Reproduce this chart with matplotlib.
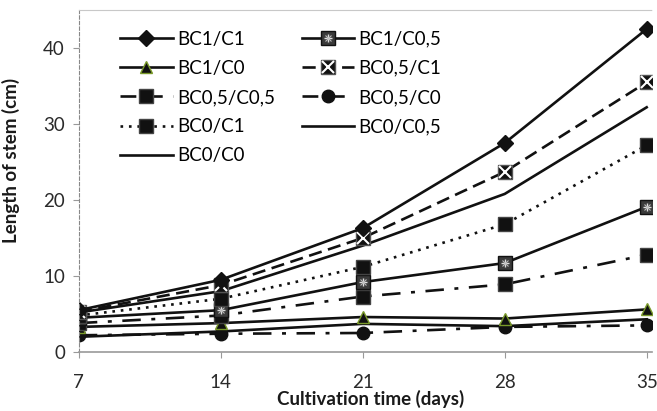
import matplotlib
matplotlib.use("Agg")
import matplotlib.pyplot as plt
from matplotlib.lines import Line2D
from matplotlib.legend_handler import HandlerTuple

plt.rcParams['font.family'] = ['Lato', 'DejaVu Sans']

# data
days = [7, 14, 21, 28, 35]
bc1_c1 = [5.5, 9.5, 16.3, 27.5, 42.5]
bc1_c05 = [4.5, 5.5, 9.2, 11.7, 19.1]
bc1_c0 = [3.3, 3.8, 4.6, 4.4, 5.6]
bc05_c1 = [5.3, 8.8, 15.0, 23.7, 35.5]
bc05_c05 = [3.8, 4.8, 7.3, 8.9, 12.8]
bc05_c0 = [2.2, 2.4, 2.5, 3.3, 3.5]
bc0_c1 = [4.8, 7.0, 11.2, 16.8, 27.2]
bc0_c05 = [5.2, 8.0, 14.0, 20.8, 32.2]
bc0_c0 = [2.0, 2.7, 3.7, 3.4, 4.3]

labels = ['BC1/C1', 'BC1/C0,5', 'BC1/C0', 'BC0,5/C1', 'BC0,5/C0,5',
          'BC0,5/C0', 'BC0/C1', 'BC0/C0,5', 'BC0/C0']

k = '#111111'
lw = 1.9
dashdot = (0, (7, 4, 1.5, 4))
dash = (0, (6, 4))

fig = plt.figure(figsize=(6.57, 4.11), dpi=100)
ax = fig.add_axes([0.120, 0.1436, 0.872, 0.832])

h = {}
# draw lower lines first
l, = ax.plot(days, bc0_c0, color=k, lw=lw)
h['BC0/C0'] = (l,)
l, = ax.plot(days, bc05_c0, color=k, lw=lw, ls=dashdot, marker='o', ms=9,
             mfc=k, mec=k)
h['BC0,5/C0'] = (Line2D([], [], color=k, lw=lw, ls=dash, marker='o', ms=9, mfc=k, mec=k),)
l, = ax.plot(days, bc1_c0, color=k, lw=lw, marker='^', ms=9, mfc=k,
             mec='#7a9a2a', mew=1)
h['BC1/C0'] = (l,)
l, = ax.plot(days, bc05_c05, color=k, lw=lw, ls=dashdot, marker='s', ms=10,
             mfc=k, mec='#444444')
h['BC0,5/C0,5'] = (Line2D([], [], color=k, lw=lw, ls=dash, marker='s', ms=10, mfc=k, mec='#444444'),)
l, = ax.plot(days, bc1_c05, color=k, lw=lw, marker='s', ms=10, mfc='#3a3a3a',
             mec=k)
l2, = ax.plot(days, bc1_c05, ls='none', marker='+', ms=6, mec='#dddddd', mew=1)
l3, = ax.plot(days, bc1_c05, ls='none', marker='x', ms=5, mec='#bbbbbb', mew=0.8)
h['BC1/C0,5'] = (l, l2, l3)
l, = ax.plot(days, bc0_c1, color=k, lw=lw, ls=(0, (1, 2.2)), marker='s', ms=10,
             mfc=k, mec='#444444')
h['BC0/C1'] = (l,)
l, = ax.plot(days, bc0_c05, color=k, lw=lw)
h['BC0/C0,5'] = (l,)
l, = ax.plot(days, bc05_c1, color=k, lw=lw, ls=(0, (5, 2.5)), marker='s', ms=10,
             mfc=k, mec='#555555')
l2, = ax.plot(days, bc05_c1, ls='none', marker='x', ms=8, mec='white', mew=1.5)
h['BC0,5/C1'] = (l, l2)
l, = ax.plot(days, bc1_c1, color=k, lw=lw, marker='D', ms=8, mfc=k, mec=k)
h['BC1/C1'] = (l,)

ax.set_xlim(7, 35.25)
ax.set_ylim(0, 45)
ax.set_xticks(days)
ax.set_yticks([0, 10, 20, 30, 40])

for s in ['right']:
    ax.spines[s].set_visible(False)
ax.spines['top'].set_color('#c8c8c8')
ax.spines['top'].set_linestyle((0, (1, 1)))
ax.spines['top'].set_linewidth(0.8)
ax.spines['left'].set_color('#888888')
ax.spines['left'].set_linestyle((0, (3, 2)))
ax.spines['left'].set_linewidth(0.8)
ax.spines['bottom'].set_color('#999999')
ax.spines['bottom'].set_linewidth(1.2)
ax.tick_params(axis='both', colors='#999999', labelcolor='#2a2a2a',
               labelsize=13.5, length=4, width=0.8)
ax.tick_params(axis='x', pad=12)
ax.tick_params(axis='y', pad=6)

ax.set_xlabel('Cultivation time (days)', fontsize=13.5, fontweight='bold',
              color='#1a1a1a')
ax.xaxis.set_label_coords(0.51, -0.112)
ax.set_ylabel('Length of stem (cm)', fontsize=13.5, fontweight='bold',
              color='#1a1a1a')
ax.yaxis.set_label_coords(-0.103, 0.56)

# legend in two columns, filled row by row
order = ['BC1/C1', 'BC1/C0,5', 'BC1/C0', 'BC0,5/C1', 'BC0,5/C0,5',
         'BC0,5/C0', 'BC0/C1', 'BC0/C0,5', 'BC0/C0']
col1 = order[0::2]
col2 = order[1::2]
leg_labels = col1 + col2
leg_handles = [h[n] for n in leg_labels]
ax.legend(leg_handles, leg_labels, ncol=2, loc='upper left',
          bbox_to_anchor=(0.16, 0.962), bbox_transform=fig.transFigure,
          frameon=False, fontsize=13.5, handlelength=2.8, handletextpad=0.25,
          columnspacing=1.4, labelspacing=0.65, borderpad=0.3,
          handler_map={tuple: HandlerTuple(ndivide=1)})

fig.savefig('out.png', dpi=100)
